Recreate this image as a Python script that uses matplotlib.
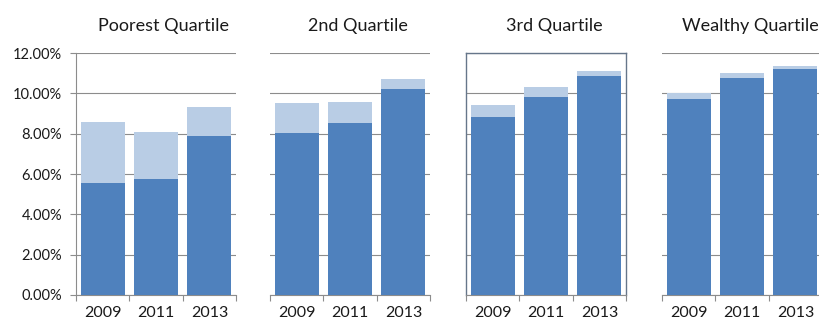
import matplotlib
matplotlib.use('Agg')
import matplotlib.pyplot as plt
from matplotlib.ticker import FuncFormatter

plt.rcParams['font.family'] = ['Lato', 'DejaVu Sans']

years = ['2009', '2011', '2013']
titles = ['Poorest Quartile', '2nd Quartile', '3rd Quartile', 'Wealthy Quartile']

# dark part of each bar and the full bar height (percent)
base = [
    [5.57, 5.77, 7.88],
    [8.02, 8.51, 10.20],
    [8.81, 9.83, 10.87],
    [9.73, 10.77, 11.20],
]
total = [
    [8.59, 8.10, 9.34],
    [9.54, 9.59, 10.73],
    [9.44, 10.33, 11.12],
    [10.00, 11.02, 11.35],
]

dark = '#4f81bd'
light = '#b9cde5'
grid = '#8c8c8c'

W, H = 819, 324
fig = plt.figure(figsize=(W / 100, H / 100), dpi=100)

lefts = [76, 270, 466, 662]
bottom_px, top_px = 295, 53
ax_w = 160

for i, (title, b, t) in enumerate(zip(titles, base, total)):
    ax = fig.add_axes([lefts[i] / W, 1 - bottom_px / H, ax_w / W, (bottom_px - top_px) / H])
    x = range(len(years))
    ax.bar(x, b, width=0.82, color=dark, zorder=3)
    ax.bar(x, [tt - bb for tt, bb in zip(t, b)], bottom=b, width=0.82, color=light, zorder=3)
    ax.set_xlim(-0.5, 2.5)
    ax.set_ylim(0, 12)
    ax.set_yticks([0, 2, 4, 6, 8, 10, 12])
    ax.yaxis.grid(True, color=grid, linewidth=0.8, zorder=0)
    ax.set_axisbelow(True)

    # category labels centred, tick marks on category boundaries
    ax.set_xticks([-0.5, 0.5, 1.5, 2.5])
    ax.set_xticklabels([])
    ax.set_xticks(list(x), minor=True)
    ax.set_xticklabels(years, minor=True, fontsize=11.5, color='#1a1a1a')
    ax.tick_params(axis='x', which='major', direction='out', length=4, color=grid, width=0.8)
    ax.tick_params(axis='x', which='minor', length=0, pad=8)

    for s in ['top', 'right', 'left']:
        ax.spines[s].set_visible(False)
    ax.spines['bottom'].set_color(grid)
    ax.spines['bottom'].set_linewidth(0.8)

    if i == 0:
        ax.spines['left'].set_visible(True)
        ax.spines['left'].set_color(grid)
        ax.spines['left'].set_linewidth(0.8)
        ax.yaxis.set_major_formatter(FuncFormatter(lambda v, p: '{:.2f}%'.format(v)))
        ax.tick_params(axis='y', direction='out', length=4, color=grid, width=0.8,
                       labelsize=10.5, labelcolor='#1a1a1a', pad=6)
    else:
        ax.tick_params(axis='y', length=0, labelleft=False)

    if i == 2:
        # this panel keeps its plot-area border
        for s in ['top', 'right', 'left']:
            ax.spines[s].set_visible(True)
            ax.spines[s].set_color('#66768a')
            ax.spines[s].set_linewidth(1.0)

    ax.text(0.55, 1 + 22 / (bottom_px - top_px), title, transform=ax.transAxes,
            ha='center', va='baseline', fontsize=13, color='#1a1a1a')

fig.savefig('out.png', dpi=100)
